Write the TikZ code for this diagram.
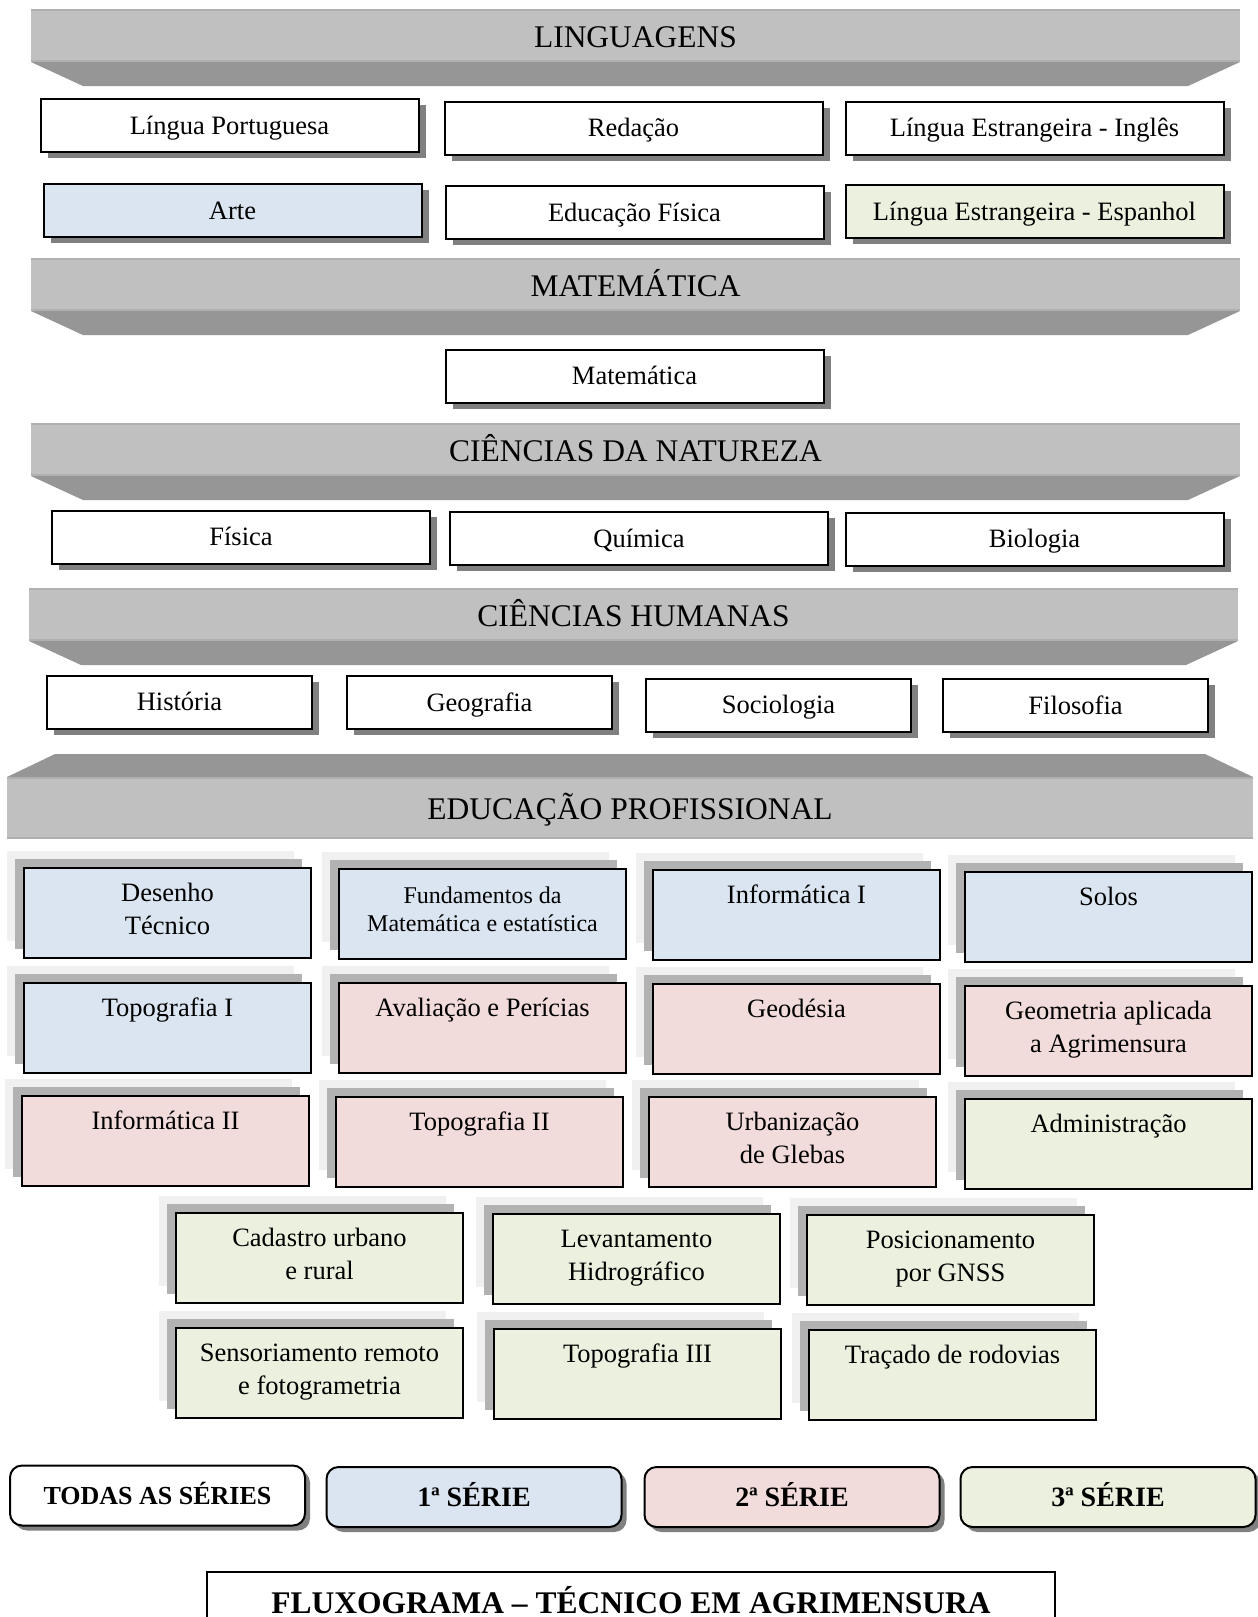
\documentclass[tikz,border=0pt]{standalone}
\usepackage{fontspec}
\setmainfont{Liberation Serif}
\usetikzlibrary{shadows}
\definecolor{blueA}{HTML}{DBE5F1}
\definecolor{pinkB}{HTML}{F2DCDB}
\definecolor{greenC}{HTML}{EBF1DE}
\definecolor{banlight}{HTML}{C0C0C0}
\definecolor{bandark}{HTML}{969696}
\definecolor{banedge}{HTML}{B0B0B0}
\definecolor{shadowgray}{HTML}{808080}
\definecolor{eplight}{HTML}{F0F0F0}
\definecolor{epdark}{HTML}{B2B2B2}

\newcommand\bandown[5]{%
  \fill[bandark] (#3,#2+53) -- (#4,#2+53) -- (#4-52,#2+77) -- (#3+52,#2+77) -- cycle;
  \fill[banlight] (#3,#2) rectangle (#4,#2+53);
  \draw[banedge, line width=2pt] (#3,#2+1) -- (#4,#2+1) (#3,#2+52) -- (#4,#2+52);
  \node[bantext] (#1) at ({(#3+#4)/2},#2+38.5) {#5};
}
\newcommand\epnode[5]{%
  \node[epbox, fill=#4] (#1) at (#2,#3)
    {\parbox[c][90pt][t]{287pt}{\centering\fontsize{26.5}{32.5}\selectfont\vspace*{11pt}\strut #5\par}};
}

\begin{document}
\begin{tikzpicture}[x=1pt,y=-1pt,
  bantext/.style={font=\fontsize{31.5}{36}\selectfont, anchor=base, inner sep=0pt},
  topbox/.style={draw=black, line width=2pt, fill=white, minimum width=378pt, minimum height=53pt,
    inner sep=0pt, text height=17.5pt, text depth=0pt, font=\fontsize{26.5}{31}\selectfont,
    general shadow={shadow xshift=7pt, shadow yshift=-6pt, fill=shadowgray}},
  chbox/.style={topbox, minimum width=265pt},
  epbox/.style={draw=black, line width=2pt, inner sep=0pt, anchor=north west,
    general shadow={shadow xshift=-17pt, shadow yshift=17pt, fill=eplight},
    general shadow={shadow xshift=-9pt, shadow yshift=9pt, fill=epdark}},
  legbox/.style={draw=black, line width=2pt, rounded corners=12pt, minimum width=295pt, minimum height=60pt,
    inner sep=0pt, text height=18.5pt, text depth=0pt, font=\fontsize{28}{32}\selectfont\bfseries,
    general shadow={shadow xshift=5pt, shadow yshift=-5pt, fill=shadowgray}},
  titlebox/.style={draw=black, line width=1.5pt, fill=white, minimum width=848pt, minimum height=61pt,
    inner sep=0pt, text height=21pt, text depth=0pt, font=\fontsize{31.5}{36}\selectfont\bfseries}
]
\useasboundingbox (0,0) rectangle (1258,1617);
\clip (0,0) rectangle (1258,1617);
\fill[white] (0,0) rectangle (1258,1617);

% LINGUAGENS
\bandown{ling}{9}{31}{1240}{LINGUAGENS}
\node[topbox] (lp) at (229.5,125.5) {Língua Portuguesa};
\node[topbox] (red) at (633.5,128) {Redação};
\node[topbox] (ing) at (1034.5,128) {Língua Estrangeira - Inglês};
\node[topbox, fill=blueA] (arte) at (232.5,210.5) {Arte};
\node[topbox] (edf) at (634.5,212.5) {Educação Física};
\node[topbox, fill=greenC] (esp) at (1034.5,211.5) {Língua Estrangeira - Espanhol};

% MATEMATICA
\bandown{mat}{258}{31}{1240}{MATEMÁTICA}
\node[topbox] (matb) at (634.5,376) {Matemática};

% CIENCIAS DA NATUREZA
\bandown{cn}{423}{31}{1240}{CIÊNCIAS DA NATUREZA}
\node[topbox] (fis) at (241,537) {Física};
\node[topbox] (qui) at (639,538.5) {Química};
\node[topbox] (bio) at (1034.5,539) {Biologia};

% CIENCIAS HUMANAS
\bandown{ch}{588}{29}{1238}{CIÊNCIAS HUMANAS}
\node[chbox] (his) at (179.5,702) {História};
\node[chbox] (geo) at (479.5,702.5) {Geografia};
\node[chbox] (soc) at (778.5,705) {Sociologia};
\node[chbox] (fil) at (1075.5,705.5) {Filosofia};

% EDUCACAO PROFISSIONAL
\fill[bandark] (55,754) -- (1205,754) -- (1253,777) -- (7,777) -- cycle;
\fill[banlight] (7,777) rectangle (1253,839);
\draw[banedge, line width=2pt] (7,778) -- (1253,778) (7,838) -- (1253,838);
\node[bantext] (ep) at (630,819) {EDUCAÇÃO PROFISSIONAL};

\epnode{des}{23}{867}{blueA}{Desenho\\Técnico}
\node[epbox, fill=blueA] (fun) at (338,868)
  {\parbox[c][90pt][t]{287pt}{\centering\fontsize{24}{27.5}\selectfont\vspace*{15.5pt}\strut Fundamentos da\\Matemática e estatística\par}};
\epnode{inf1}{652}{869}{blueA}{Informática I}
\epnode{sol}{964}{871}{blueA}{Solos}

\epnode{top1}{23}{982}{blueA}{Topografia I}
\epnode{ava}{338}{982}{pinkB}{Avaliação e Perícias}
\epnode{gds}{652}{983}{pinkB}{Geodésia}
\epnode{gap}{964}{985}{pinkB}{Geometria aplicada\\a Agrimensura}

\epnode{inf2}{21}{1095}{pinkB}{Informática II}
\epnode{top2}{335}{1096}{pinkB}{Topografia II}
\epnode{urb}{648}{1096}{pinkB}{Urbanização\\de Glebas}
\epnode{adm}{964}{1098}{greenC}{Administração}

\epnode{cad}{175}{1212}{greenC}{Cadastro urbano\\e rural}
\epnode{lev}{492}{1213}{greenC}{Levantamento\\Hidrográfico}
\epnode{pos}{806}{1214}{greenC}{Posicionamento\\por GNSS}

\epnode{sen}{175}{1327}{greenC}{Sensoriamento remoto\\e fotogrametria}
\epnode{top3}{493}{1328}{greenC}{Topografia III}
\epnode{tra}{808}{1329}{greenC}{Traçado de rodovias}

% LEGEND
\node[legbox, fill=white, text height=17.2pt, font=\fontsize{26}{30}\selectfont\bfseries] (todas) at (157.5,1495.5) {TODAS AS SÉRIES};
\node[legbox, fill=blueA] (s1) at (474,1497) {1ª SÉRIE};
\node[legbox, fill=pinkB] (s2) at (792,1497) {2ª SÉRIE};
\node[legbox, fill=greenC] (s3) at (1108,1497) {3ª SÉRIE};

% TITLE
\node[titlebox] (title) at (631,1602.5) {FLUXOGRAMA – TÉCNICO EM AGRIMENSURA};
\end{tikzpicture}
\end{document}
